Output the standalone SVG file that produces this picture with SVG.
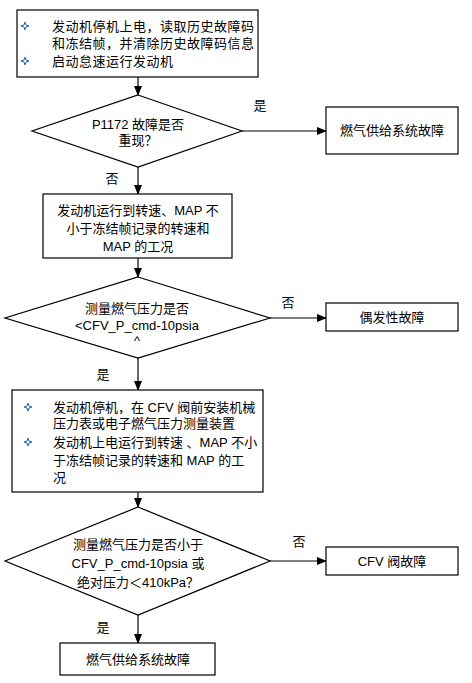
<svg xmlns="http://www.w3.org/2000/svg" width="472" height="683" viewBox="0 0 472 683">
<style>
.b{fill:#fff;stroke:#000;stroke-width:1.2}
.t{font-family:"Liberation Sans","Noto Sans CJK SC",sans-serif;font-size:13px;fill:#000}
.c{text-anchor:middle}
.l{fill:none;stroke:#000;stroke-width:1.2}
.bul{fill:#fff;stroke:#2a6ab8;stroke-width:1}
</style>
<defs>
<marker id="ah" markerWidth="10" markerHeight="8" refX="9" refY="4" orient="auto" markerUnits="userSpaceOnUse">
<path d="M0,0 L10,4 L0,8 Z" fill="#000"/>
</marker>
<path id="star" d="M0,-4 L1,-1 L4,0 L1,1 L0,4 L-1,1 L-4,0 L-1,-1 Z"/>
</defs>
<rect width="472" height="683" fill="#fff"/>
<g id="connectors">
<line class="l" x1="138" y1="77" x2="138" y2="95" marker-end="url(#ah)"/>
<line class="l" x1="242" y1="131" x2="326" y2="131" marker-end="url(#ah)"/>
<line class="l" x1="138" y1="167" x2="138" y2="194" marker-end="url(#ah)"/>
<line class="l" x1="138" y1="258" x2="138" y2="277" marker-end="url(#ah)"/>
<line class="l" x1="270" y1="318" x2="326" y2="318" marker-end="url(#ah)"/>
<line class="l" x1="138" y1="358" x2="138" y2="390" marker-end="url(#ah)"/>
<line class="l" x1="138" y1="492" x2="138" y2="507" marker-end="url(#ah)"/>
<line class="l" x1="270" y1="561" x2="326" y2="561" marker-end="url(#ah)"/>
<line class="l" x1="138" y1="615" x2="138" y2="643" marker-end="url(#ah)"/>
<text class="t c" x="260" y="110">是</text>
<text class="t c" x="112" y="183">否</text>
<text class="t c" x="288" y="307">否</text>
<text class="t c" x="103" y="379">是</text>
<text class="t c" x="299" y="546">否</text>
<text class="t c" x="103" y="632">是</text>
</g>
<g id="n1">
<rect class="b" x="17" y="10" width="241" height="67"/>
<use href="#star" x="25" y="26" class="bul"/>
<use href="#star" x="25" y="61" class="bul"/>
<text class="t" x="52" y="31" letter-spacing="0.5">发动机停机上电，读取历史故障码</text>
<text class="t" x="52" y="48" letter-spacing="0.5">和冻结帧，并清除历史故障码信息</text>
<text class="t" x="52" y="66" letter-spacing="0.5">启动怠速运行发动机</text>
</g>
<g id="d1">
<polygon class="b" points="138,95 242,131 138,167 32,131"/>
<text class="t c" x="138" y="129">P1172 故障是否</text>
<text class="t c" x="138" y="145">重现？</text>
</g>
<g id="r1">
<rect class="b" x="326" y="107" width="132" height="47"/>
<text class="t c" x="392" y="135">燃气供给系统故障</text>
</g>
<g id="n2">
<rect class="b" x="43" y="194" width="189" height="64"/>
<text class="t c" x="138" y="215">发动机运行到转速、MAP 不</text>
<text class="t c" x="138" y="233">小于冻结帧记录的转速和</text>
<text class="t c" x="138" y="251">MAP 的工况</text>
</g>
<g id="d2">
<polygon class="b" points="138,277 270,318 138,358 5,318"/>
<text class="t c" x="137" y="313">测量燃气压力是否</text>
<text class="t c" x="137" y="330">&lt;CFV_P_cmd-10psia</text>
<text class="t c" x="137" y="345">^</text>
</g>
<g id="r2">
<rect class="b" x="326" y="303" width="132" height="28"/>
<text class="t c" x="392" y="322">偶发性故障</text>
</g>
<g id="n3">
<rect class="b" x="12" y="390" width="251" height="102"/>
<use href="#star" x="28" y="407" class="bul"/>
<use href="#star" x="28" y="442" class="bul"/>
<text class="t" x="53" y="412">发动机停机，在 CFV 阀前安装机械</text>
<text class="t" x="53" y="428">压力表或电子燃气压力测量装置</text>
<text class="t" x="53" y="447">发动机上电运行到转速 、MAP 不小</text>
<text class="t" x="53" y="465">于冻结帧记录的转速和 MAP 的工</text>
<text class="t" x="53" y="482">况</text>
</g>
<g id="d3">
<polygon class="b" points="138,507 270,561 138,615 5,561"/>
<text class="t c" x="138" y="549">测量燃气压力是否小于</text>
<text class="t c" x="138" y="568">CFV_P_cmd-10psia 或</text>
<text class="t c" x="138" y="587">绝对压力＜410kPa？</text>
</g>
<g id="r3">
<rect class="b" x="326" y="547" width="132" height="28"/>
<text class="t c" x="392" y="566">CFV 阀故障</text>
</g>
<g id="n4">
<rect class="b" x="60" y="643" width="155" height="32"/>
<text class="t c" x="138" y="664">燃气供给系统故障</text>
</g>
</svg>
